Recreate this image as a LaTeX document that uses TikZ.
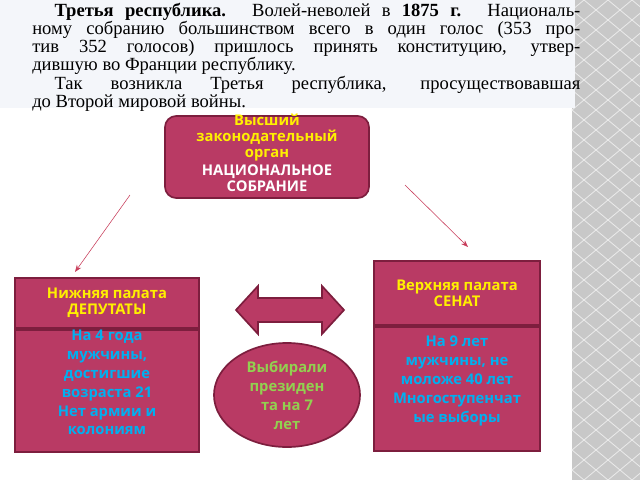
\documentclass[tikz,border=0pt]{standalone}
\usepackage{fontspec}
\setmainfont{Liberation Serif}
\newfontfamily\boxfont{Open Sans}
\usetikzlibrary{arrows.meta,positioning,shapes,calc}
\definecolor{chamber}{RGB}{185,58,100}
\definecolor{chamberedge}{RGB}{125,30,62}
\definecolor{headyellow}{RGB}{255,240,0}
\definecolor{bodycyan}{RGB}{0,176,240}
\definecolor{ovalgreen}{RGB}{146,208,80}
\definecolor{linkred}{RGB}{200,60,90}
\definecolor{pagebg}{RGB}{244,246,250}
\definecolor{stripgray}{RGB}{200,200,200}

\begin{document}
\begin{tikzpicture}[x=0.025cm,y=-0.025cm,
    chamberbox/.style={draw=chamberedge,line width=1.2pt,fill=chamber},
    headtext/.style={font=\boxfont\bfseries\fontsize{10.5}{11.5}\selectfont,align=center,text=headyellow,inner sep=1pt},
    bodytext/.style={font=\boxfont\bfseries\fontsize{10.5}{13.5}\selectfont,align=center,text=bodycyan,inner sep=1pt},
    link/.style={draw=linkred,-{Stealth[length=5pt]},thin}]
    \useasboundingbox (0,0) rectangle (640,480);
    \fill[white] (0,0) rectangle (640,480);

    % slide strip on the right
    \fill[stripgray] (572,0) rectangle (640,480);
    \foreach \i in {0,...,24} {
        \foreach \j in {0,1,2} {
            \draw[white!60!stripgray,line width=0.6pt]
                ({584+\j*24},{\i*20}) -- ({596+\j*24},{\i*20+10}) -- ({584+\j*24},{\i*20+20}) -- ({572+\j*24},{\i*20+10}) -- cycle;
        }
    }

    % scanned text
    \fill[pagebg] (0,0) rectangle (575,108);
    \node[anchor=north west,text width=13.7cm,align=justify,inner sep=0pt,
          font=\fontsize{13.2}{12.9}\selectfont] (scan) at (32,3)
        {\hspace*{1.2em}\textbf{Третья республика.} Волей-неволей в \textbf{1875 г.} Националь-\linebreak
         ному собранию большинством всего в один голос (353 про-\linebreak
         тив 352 голосов) пришлось принять конституцию, утвер-\linebreak
         дившую во Франции республику.\par
         \hspace*{1.2em}Так возникла Третья республика, просуществовавшая\linebreak
         до Второй мировой войны.};

    % national assembly
    \node[chamberbox,rounded corners=8pt,minimum width=5.1cm,minimum height=2.05cm] (assembly) at (267,157) {};
    \node[headtext,anchor=north] (assemblytop) at (267,112)
        {Высший\\законодательный\\орган};
    \node[headtext,text=white,below=0pt of assemblytop] (assemblyname)
        {НАЦИОНАЛЬНОЕ\\СОБРАНИЕ};

    % lower chamber
    \node[chamberbox,minimum width=4.6cm,minimum height=1.25cm] (lowerhead) at (107,303) {};
    \node[chamberbox,minimum width=4.6cm,minimum height=3.05cm,below=0pt of lowerhead] (lowerbody) {};
    \node[headtext] at (lowerhead) {Нижняя палата\\ДЕПУТАТЫ};
    \node[bodytext,anchor=north] at ($(lowerbody.north)+(0,-1)$)
        {На 4 года\\мужчины,\\достигшие\\возраста 21\\Нет армии и\\колониям};

    % upper chamber
    \node[chamberbox,minimum width=4.15cm,minimum height=1.6cm] (upperhead) at (457,293) {};
    \node[chamberbox,minimum width=4.15cm,minimum height=3.1cm,below=0pt of upperhead] (upperbody) {};
    \node[headtext] at (upperhead) {Верхняя палата\\СЕНАТ};
    \node[bodytext] at ($(upperbody)+(0,-8)$)
        {На 9 лет\\мужчины, не\\моложе 40 лет\\Многоступенчат\\ые выборы};

    % president oval
    \node[chamberbox,ellipse,minimum width=3.65cm,minimum height=2.6cm] (president) at (287,395) {};
    \node[bodytext,text=ovalgreen] at (president) {Выбирали\\президен\\та на 7\\лет};

    % double arrow between chambers
    \draw[chamberbox,line join=miter]
        (236,310) -- (258,286) -- (258,298) -- (322,298) -- (322,286) -- (344,310)
        -- (322,334) -- (322,322) -- (258,322) -- (258,334) -- cycle;

    % links from the assembly
    \coordinate (leftstart) at (130,195);
    \coordinate (rightstart) at (405,185);
    \draw[link] (leftstart) -- (75,272);
    \draw[link] (rightstart) -- (468,247);
\end{tikzpicture}
\end{document}
